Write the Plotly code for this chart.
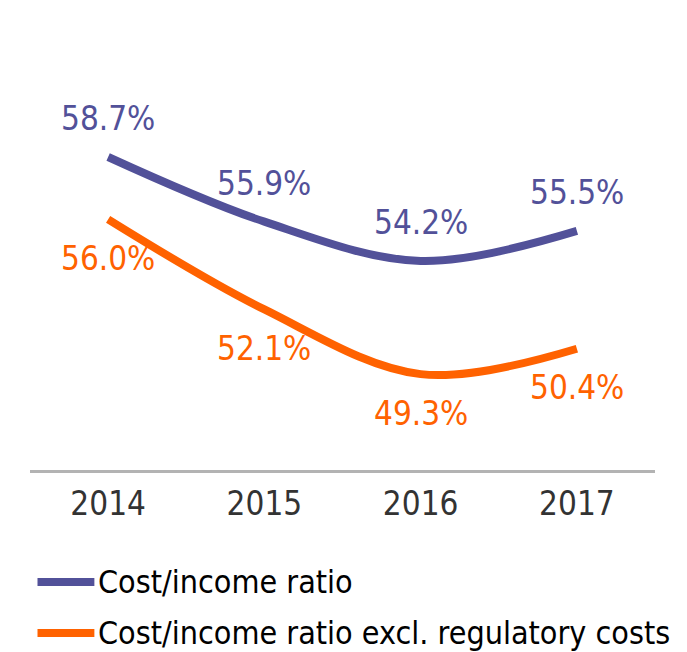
import plotly.graph_objects as go

# data
years = [2014, 2015, 2016, 2017]
cost_income = [58.7, 55.9, 54.2, 55.5]
cost_income_excl = [56.0, 52.1, 49.3, 50.4]
series_names = ["Cost/income ratio", "Cost/income ratio excl. regulatory costs"]

BLUE = "#525199"
ORANGE = "#FF6200"
FONT = "DejaVu Sans Condensed, sans-serif"

fig = go.Figure()
fig.add_trace(go.Scatter(x=years, y=cost_income, mode="lines", name=series_names[0],
                         line=dict(color=BLUE, width=8, shape="spline")))
fig.add_trace(go.Scatter(x=years, y=cost_income_excl, mode="lines", name=series_names[1],
                         line=dict(color=ORANGE, width=8, shape="spline")))

# value labels: blue above, orange below
annos = []
for x, v in zip(years, cost_income):
    annos.append(dict(x=x, y=v, text=f"{v:.1f}%", showarrow=False, yshift=38,
                      font=dict(color=BLUE, size=33, family=FONT)))
for x, v in zip(years, cost_income_excl):
    annos.append(dict(x=x, y=v, text=f"{v:.1f}%", showarrow=False, yshift=-39,
                      font=dict(color=ORANGE, size=33, family=FONT)))

# hand drawn legend below the axis
shapes = []
for i, (name, col) in enumerate(zip(series_names, [BLUE, ORANGE])):
    ly = -0.2424 - i * 0.1104
    shapes.append(dict(type="line", xref="paper", yref="paper", x0=0.012, x1=0.103,
                       y0=ly, y1=ly, line=dict(color=col, width=8)))
    annos.append(dict(xref="paper", yref="paper", x=0.106, y=ly, text=name,
                      xanchor="left", yanchor="middle", showarrow=False,
                      font=dict(color="black", size=32, family=FONT)))

fig.update_layout(
    width=679, height=644,
    margin=dict(l=22, r=32, t=0, b=182),
    plot_bgcolor="white", paper_bgcolor="white",
    showlegend=False,
    annotations=annos, shapes=shapes,
    font=dict(family=FONT),
)
fig.update_xaxes(range=[2013.5, 2017.5], tickvals=years, ticktext=[str(y) for y in years],
                 showgrid=False, zeroline=False, showline=True, linecolor="#b3b3b3", linewidth=3,
                 ticks="", ticklabelstandoff=2, tickfont=dict(size=33, color="#333333", family=FONT))
fig.update_yaxes(range=[45.15, 65.15], visible=False)

fig.write_html("out.html")
